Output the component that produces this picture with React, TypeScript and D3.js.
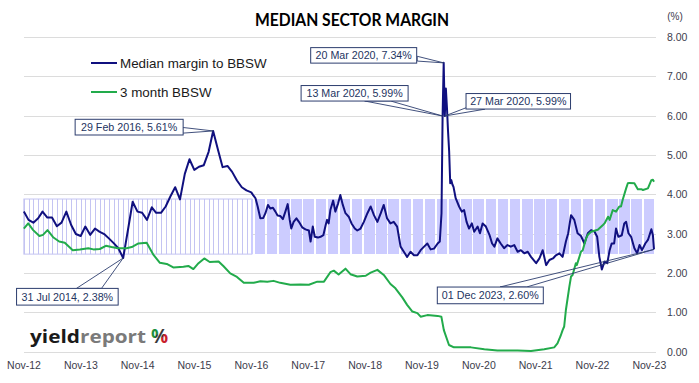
import React from 'react';
import * as d3 from 'd3';

const W = 699;
const H = 383;

// Median margin to BBSW — monthly (month-end) until Oct 2016
const marginMonthly: [string, number][] = [
  ['2012-10-31', 3.56], ['2012-11-30', 3.35], ['2012-12-31', 3.28], ['2013-01-31', 3.39],
  ['2013-02-28', 3.56], ['2013-03-31', 3.41], ['2013-04-30', 3.41], ['2013-05-31', 3.19],
  ['2013-06-30', 3.28], ['2013-07-31', 3.56], ['2013-08-31', 3.22], ['2013-09-30', 2.99],
  ['2013-10-31', 2.94], ['2013-11-30', 3.18], ['2013-12-31', 2.97], ['2014-01-31', 3.13],
  ['2014-02-28', 3.05], ['2014-03-31', 2.99], ['2014-04-30', 2.88], ['2014-05-31', 2.76],
  ['2014-06-30', 2.63], ['2014-07-31', 2.38], ['2014-08-31', 3.10], ['2014-09-30', 3.81],
  ['2014-10-31', 3.56], ['2014-11-30', 3.53], ['2014-12-31', 3.35], ['2015-01-31', 3.67],
  ['2015-02-28', 3.53], ['2015-03-31', 3.53], ['2015-04-30', 3.69], ['2015-05-31', 3.95],
  ['2015-06-30', 4.18], ['2015-07-31', 3.87], ['2015-08-31', 4.52], ['2015-09-30', 4.89],
  ['2015-10-31', 4.62], ['2015-11-30', 4.70], ['2015-12-31', 4.74], ['2016-01-31', 5.08],
  ['2016-02-29', 5.61], ['2016-03-31', 5.13], ['2016-04-30', 4.69], ['2016-05-31', 4.72],
  ['2016-06-30', 4.57], ['2016-07-31', 4.35], ['2016-08-31', 4.18], ['2016-09-30', 4.10],
  ['2016-10-31', 4.05],
];

// Median margin to BBSW — weekly from Nov 2016
const marginWeekly: [string, number][] = [
  ['2016-11-12', 3.98], ['2016-11-27', 3.90], ['2016-12-11', 3.69], ['2016-12-28', 3.39],
  ['2017-01-16', 3.40], ['2017-01-30', 3.52], ['2017-02-15', 3.73], ['2017-03-02', 3.64],
  ['2017-03-19', 3.66], ['2017-04-04', 3.56], ['2017-04-18', 3.46], ['2017-05-05', 3.45],
  ['2017-05-22', 3.37], ['2017-06-07', 3.56], ['2017-06-22', 3.75], ['2017-07-05', 3.35],
  ['2017-07-15', 3.13], ['2017-07-30', 3.30], ['2017-08-17', 3.39], ['2017-09-02', 3.30],
  ['2017-09-23', 3.16], ['2017-10-14', 3.11], ['2017-11-05', 3.08], ['2017-11-16', 2.80],
  ['2017-11-30', 3.18], ['2017-12-13', 2.92], ['2018-01-02', 2.90], ['2018-01-19', 2.92],
  ['2018-02-06', 2.96], ['2018-02-21', 3.22], ['2018-03-02', 3.35], ['2018-03-12', 3.26],
  ['2018-03-23', 3.60], ['2018-04-10', 3.84], ['2018-04-24', 3.56], ['2018-05-12', 3.77],
  ['2018-05-26', 3.98], ['2018-06-11', 3.73], ['2018-06-28', 3.52], ['2018-07-19', 3.43],
  ['2018-08-06', 3.26], ['2018-08-27', 3.13], ['2018-09-12', 3.08], ['2018-10-03', 3.13],
  ['2018-10-24', 3.30], ['2018-11-16', 3.52], ['2018-12-07', 3.69], ['2018-12-28', 3.47],
  ['2019-01-19', 3.30], ['2019-02-10', 3.52], ['2019-03-01', 3.73], ['2019-03-22', 3.39],
  ['2019-04-13', 3.26], ['2019-05-04', 3.30], ['2019-05-26', 3.18], ['2019-06-17', 2.67],
  ['2019-07-08', 2.54], ['2019-07-29', 2.41], ['2019-08-20', 2.54], ['2019-09-11', 2.45],
  ['2019-10-03', 2.45], ['2019-10-24', 2.58], ['2019-11-15', 2.67], ['2019-12-06', 2.75],
  ['2019-12-27', 2.60], ['2020-01-18', 2.62], ['2020-02-10', 2.75], ['2020-02-24', 2.80],
  ['2020-03-06', 3.52], ['2020-03-13', 5.99], ['2020-03-20', 7.34], ['2020-03-27', 5.99],
  ['2020-04-03', 6.69], ['2020-04-10', 6.20], ['2020-04-17', 5.60], ['2020-04-24', 5.10],
  ['2020-05-01', 4.28], ['2020-05-08', 4.36], ['2020-05-15', 4.25], ['2020-05-22', 4.19],
  ['2020-06-05', 3.90], ['2020-06-27', 3.69], ['2020-07-14', 3.56], ['2020-07-29', 3.60],
  ['2020-08-14', 3.30], ['2020-08-30', 3.13], ['2020-09-17', 3.26], ['2020-10-02', 3.05],
  ['2020-10-24', 3.18], ['2020-11-08', 3.01], ['2020-11-25', 3.26], ['2020-12-16', 3.18],
  ['2021-01-08', 2.97], ['2021-01-25', 2.75], ['2021-02-09', 2.67], ['2021-02-28', 2.88],
  ['2021-03-21', 2.75], ['2021-04-12', 2.63], ['2021-05-04', 2.71], ['2021-05-25', 2.67],
  ['2021-06-16', 2.71], ['2021-07-08', 2.54], ['2021-07-29', 2.58], ['2021-08-20', 2.50],
  ['2021-09-11', 2.54], ['2021-10-02', 2.41], ['2021-11-04', 2.25], ['2021-11-25', 2.37],
  ['2021-12-16', 2.58], ['2022-01-07', 2.20], ['2022-01-28', 2.33], ['2022-02-20', 2.37],
  ['2022-03-11', 2.45], ['2022-04-02', 2.50], ['2022-04-23', 2.41], ['2022-05-14', 2.80],
  ['2022-05-29', 3.01], ['2022-06-16', 3.47], ['2022-07-07', 3.35], ['2022-07-28', 3.01],
  ['2022-08-19', 2.94], ['2022-09-10', 2.75], ['2022-10-02', 3.01], ['2022-10-23', 3.09],
  ['2022-11-14', 3.05], ['2022-12-01', 2.92], ['2022-12-15', 2.41], ['2022-12-31', 2.09],
  ['2023-01-17', 2.29], ['2023-02-04', 2.25], ['2023-02-19', 2.58], ['2023-03-04', 2.75],
  ['2023-03-20', 2.75], ['2023-04-01', 3.13], ['2023-04-16', 2.92], ['2023-05-08', 2.96],
  ['2023-05-24', 3.26], ['2023-06-05', 3.30], ['2023-06-20', 3.01], ['2023-07-07', 2.92],
  ['2023-07-28', 2.63], ['2023-08-15', 2.50], ['2023-08-30', 2.71], ['2023-09-15', 2.58],
  ['2023-10-06', 2.75], ['2023-10-23', 2.84], ['2023-11-14', 3.11], ['2023-11-24', 2.96],
  ['2023-12-01', 2.60],
];

// 3 month BBSW
const bbsw: [string, number][] = [
  ['2012-10-31', 3.13], ['2012-11-28', 3.26], ['2012-12-30', 3.09], ['2013-02-08', 2.94],
  ['2013-03-03', 2.97], ['2013-04-01', 3.09], ['2013-05-07', 2.91], ['2013-06-15', 2.80],
  ['2013-07-21', 2.77], ['2013-09-10', 2.58], ['2013-10-26', 2.60], ['2013-12-19', 2.63],
  ['2014-01-21', 2.60], ['2014-03-03', 2.61], ['2014-04-11', 2.69], ['2014-05-17', 2.66],
  ['2014-06-29', 2.63], ['2014-08-22', 2.63], ['2014-09-24', 2.66], ['2014-11-06', 2.75],
  ['2014-12-29', 2.77], ['2015-02-11', 2.46], ['2015-03-24', 2.26], ['2015-05-07', 2.23],
  ['2015-06-18', 2.14], ['2015-08-22', 2.16], ['2015-09-23', 2.18], ['2015-10-25', 2.10],
  ['2015-11-27', 2.25], ['2016-01-03', 2.37], ['2016-02-07', 2.28], ['2016-04-04', 2.29],
  ['2016-05-06', 2.17], ['2016-06-18', 1.99], ['2016-07-31', 1.90], ['2016-09-13', 1.75],
  ['2016-11-16', 1.75], ['2016-12-28', 1.79], ['2017-02-11', 1.78], ['2017-03-23', 1.80],
  ['2017-05-05', 1.75], ['2017-07-09', 1.70], ['2017-09-12', 1.71], ['2017-11-05', 1.70],
  ['2017-12-29', 1.78], ['2018-02-10', 1.78], ['2018-03-23', 2.02], ['2018-04-14', 2.06],
  ['2018-05-15', 1.96], ['2018-06-28', 2.11], ['2018-07-30', 1.97], ['2018-09-12', 1.91],
  ['2018-11-05', 1.93], ['2018-12-07', 2.01], ['2019-01-19', 2.08], ['2019-03-01', 1.95],
  ['2019-04-13', 1.72], ['2019-05-15', 1.61], ['2019-06-28', 1.38], ['2019-07-29', 1.19],
  ['2019-09-01', 1.02], ['2019-10-03', 0.98], ['2019-10-24', 0.89], ['2019-12-06', 0.93],
  ['2020-02-10', 0.91], ['2020-03-05', 0.89], ['2020-03-21', 0.55], ['2020-04-23', 0.17],
  ['2020-05-25', 0.11], ['2020-09-11', 0.11], ['2020-12-06', 0.06], ['2021-02-28', 0.03],
  ['2021-07-08', 0.03], ['2021-10-02', 0.02], ['2021-12-26', 0.06], ['2022-02-28', 0.11],
  ['2022-03-21', 0.21], ['2022-04-10', 0.40], ['2022-04-23', 0.55], ['2022-05-03', 0.64],
  ['2022-05-14', 1.06], ['2022-06-05', 1.65], ['2022-06-16', 1.91], ['2022-06-26', 1.95],
  ['2022-07-17', 2.25], ['2022-07-23', 2.20], ['2022-08-19', 2.54], ['2022-08-30', 2.58],
  ['2022-09-21', 2.88], ['2022-10-02', 2.97], ['2022-10-23', 3.05], ['2022-12-05', 3.10],
  ['2023-01-07', 3.22], ['2023-01-17', 3.26], ['2023-02-09', 3.43], ['2023-02-19', 3.35],
  ['2023-03-11', 3.60], ['2023-04-01', 3.56], ['2023-04-22', 3.69], ['2023-05-03', 3.69],
  ['2023-05-14', 3.86], ['2023-06-05', 4.15], ['2023-06-16', 4.28], ['2023-06-26', 4.29],
  ['2023-07-28', 4.28], ['2023-08-19', 4.13], ['2023-09-10', 4.13], ['2023-09-21', 4.11],
  ['2023-10-23', 4.15], ['2023-11-14', 4.36], ['2023-11-24', 4.37], ['2023-12-01', 4.32],
];

// Shaded range band (columns)
const bandLow = 2.48;
const bandHigh = 3.88;
const bandMonthlyStart = '2012-10-31';
const bandWeeklyStart = '2016-11-04';
const bandEnd = '2023-12-01';

const yTicks = [0, 1, 2, 3, 4, 5, 6, 7, 8];
const xTickDates = [
  '2012-11-01', '2013-11-01', '2014-11-01', '2015-11-01', '2016-11-01', '2017-11-01',
  '2018-11-01', '2019-11-01', '2020-11-01', '2021-11-01', '2022-11-01', '2023-11-01',
];
const xTickLabels = [
  'Nov-12', 'Nov-13', 'Nov-14', 'Nov-15', 'Nov-16', 'Nov-17',
  'Nov-18', 'Nov-19', 'Nov-20', 'Nov-21', 'Nov-22', 'Nov-23',
];

const annDates = ['2020-03-20', '2020-03-13', '2020-03-27', '2016-02-29', '2014-07-31', '2023-12-01'];
const annValues = [7.34, 5.99, 5.99, 5.61, 2.38, 2.60];
const annLabels = [
  '20 Mar 2020, 7.34%', '13 Mar 2020, 5.99%', '27 Mar 2020, 5.99%',
  '29 Feb 2016, 5.61%', '31 Jul 2014, 2.38%', '01 Dec 2023, 2.60%',
];
// layout of callouts relative to anchor: box centre offset, size, wedge base offsets
const annLayout = [
  { dx: -80, dy: -7.5, w: 106, h: 15.5, b1: [-26.5, -6.6], b2: [-26.5, -1.8] },
  { dx: -88, dy: -22.7, w: 107, h: 15.5, b1: [-78, -15], b2: [-52, -15] },
  { dx: 73.5, dy: -14.7, w: 104.5, h: 15.5, b1: [22, -8.5], b2: [40, -6.8] },
  { dx: -84, dy: -3.8, w: 108, h: 15.7, b1: [-30.5, -3.5], b2: [-30.5, 2.2] },
  { dx: -55.8, dy: 38.7, w: 101.6, h: 16.7, b1: [-46.6, 30.3], b2: [-21.6, 30.3] },
  { dx: -163.7, dy: 46, w: 106, h: 16.7, b1: [-154, 37.6], b2: [-127.3, 37.6] },
];

const NAVY = '#10107f';
const GREEN = '#22ab4b';
const TICK = '#3c3c4c';
const FONT = "'Liberation Sans', Arial, sans-serif";

const parse = d3.timeParse('%Y-%m-%d');

export default function App() {
  const x = d3
    .scaleTime()
    .domain([parse('2012-11-01') as Date, parse('2023-12-01') as Date])
    .range([24, 654]);
  const y = d3.scaleLinear().domain([0, 8]).range([351.7, 36.9]);

  const line = d3
    .line<[string, number]>()
    .x((d) => x(parse(d[0]) as Date))
    .y((d) => y(d[1]));

  const marginAll = [...marginMonthly, ...marginWeekly];

  const monthCols = d3.timeMonth.range(
    parse(bandMonthlyStart) as Date,
    parse(bandWeeklyStart) as Date,
  );
  const weekStart = parse(bandWeeklyStart) as Date;
  const weekCols = d3.timeDay.range(weekStart, d3.timeDay.offset(parse(bandEnd) as Date, 1), 7);
  const weekPx = x(d3.timeDay.offset(weekStart, 7)) - x(weekStart);
  const bandTop = y(bandHigh);
  const bandBot = y(bandLow);

  return (
    <svg width={W} height={H} style={{ display: 'block', position: 'absolute', left: 0, top: 0 }}>
      <rect x={0} y={0} width={W} height={H} fill="#ffffff" />
      <defs>
        <linearGradient id="pct" x1="0" y1="0" x2="1" y2="1">
          <stop offset="0" stopColor="#1f8f3c" />
          <stop offset="0.4" stopColor="#1f8f3c" />
          <stop offset="0.4" stopColor="#3a3a3a" />
          <stop offset="0.6" stopColor="#3a3a3a" />
          <stop offset="0.6" stopColor="#c8202a" />
          <stop offset="1" stopColor="#c8202a" />
        </linearGradient>
      </defs>

      {/* title */}
      <text x={352} y={26} textAnchor="middle" fontFamily="Lato, 'Open Sans', sans-serif" fontWeight="bold" fontSize={16.5} fill="#000" textLength={194} lengthAdjust="spacingAndGlyphs">
        MEDIAN SECTOR MARGIN
      </text>
      <text x={675} y={20} textAnchor="middle" fontFamily={FONT} fontSize={10} fill={TICK}>(%)</text>

      {/* gridlines */}
      {yTicks.map((t) => (
        <line key={t} x1={24} x2={656} y1={Math.round(y(t)) + 0.5} y2={Math.round(y(t)) + 0.5} stroke="#dcdcdc" strokeWidth={1} />
      ))}

      {/* band: monthly columns (outlined) */}
      <rect x={x(parse(bandMonthlyStart) as Date)} y={bandTop} width={x(weekStart) - x(parse(bandMonthlyStart) as Date)} height={bandBot - bandTop} fill="#ffffff" stroke="#c4c4f2" strokeWidth={1} />
      {monthCols.map((d, i) => (
        <line key={'m' + i} x1={Math.round(x(d)) + 0.5} x2={Math.round(x(d)) + 0.5} y1={bandTop} y2={bandBot} stroke="#c4c4f2" strokeWidth={1} />
      ))}
      {/* band: weekly columns */}
      <g shapeRendering="crispEdges">
        {weekCols.map((d, i) => (
          <rect key={'w' + i} x={x(d) - weekPx / 2} y={bandTop} width={weekPx * 0.86} height={bandBot - bandTop} fill="#ccccff" />
        ))}
      </g>

      {/* series */}
      <path d={line(marginAll) || ''} fill="none" stroke={NAVY} strokeWidth={2} strokeLinejoin="round" />
      <path d={line(bbsw) || ''} fill="none" stroke={GREEN} strokeWidth={2} strokeLinejoin="round" />

      {/* y ticks */}
      {yTicks.map((t) => (
        <text key={'yt' + t} x={667} y={y(t) + 4} fontFamily={FONT} fontSize={10.5} fill={TICK}>
          {t.toFixed(2)}
        </text>
      ))}
      {/* x ticks */}
      {xTickDates.map((d, i) => (
        <text key={'xt' + i} x={x(parse(d) as Date)} y={369} textAnchor="middle" fontFamily={FONT} fontSize={10.5} fill={TICK}>
          {xTickLabels[i]}
        </text>
      ))}

      {/* legend */}
      <line x1={91} x2={117} y1={63} y2={63} stroke={NAVY} strokeWidth={2} />
      <text x={120} y={68} fontFamily={FONT} fontSize={13.4} fill="#1a1a1a">Median margin to BBSW</text>
      <line x1={91} x2={117} y1={92} y2={92} stroke={GREEN} strokeWidth={2} />
      <text x={120} y={97} fontFamily={FONT} fontSize={13.4} fill="#1a1a1a">3 month BBSW</text>

      {/* annotations */}
      {annDates.map((d, i) => {
        const ax = x(parse(d) as Date);
        const ay = y(annValues[i]);
        const L = annLayout[i];
        const cx = ax + L.dx;
        const cy = ay + L.dy;
        return (
          <g key={'a' + i}>
            <polygon
              points={`${ax},${ay} ${ax + L.b1[0]},${ay + L.b1[1]} ${ax + L.b2[0]},${ay + L.b2[1]}`}
              fill="none"
              stroke="#2c3d6e"
              strokeWidth={0.9}
            />
            <rect x={cx - L.w / 2} y={cy - L.h / 2} width={L.w} height={L.h} fill="#ffffff" stroke="#2c3d6e" strokeWidth={1} />
            <text x={cx} y={cy + 3.8} textAnchor="middle" fontFamily={FONT} fontSize={10.7} fill="#24345f">
              {annLabels[i]}
            </text>
          </g>
        );
      })}

      {/* logo */}
      <text x={30} y={343} fontFamily="'Open Sans', sans-serif" fontWeight="bold" fontSize={18} fill="#1a1a1a" textLength={50} lengthAdjust="spacingAndGlyphs">yield</text>
      <text x={80} y={343} fontFamily="'Open Sans', sans-serif" fontWeight="bold" fontSize={18} fill="#7a7a7a" textLength={66} lengthAdjust="spacingAndGlyphs">report</text>
      <text x={151} y={343} fontFamily="'Open Sans', sans-serif" fontWeight="bold" fontSize={19} fill="url(#pct)">%</text>
    </svg>
  );
}
